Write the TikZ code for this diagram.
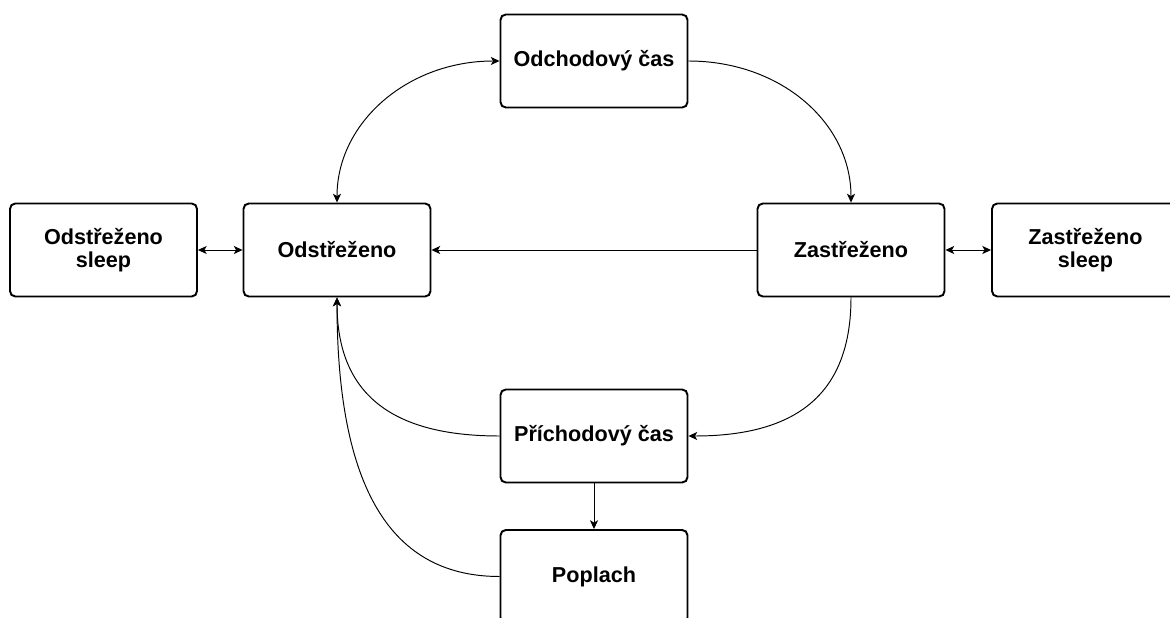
\documentclass[tikz,border=0pt]{standalone}
\usepackage{fontspec}
\setmainfont{Liberation Sans}
\usetikzlibrary{arrows.meta}
\begin{document}
\begin{tikzpicture}[x=0.02cm,y=-0.02cm,
  state/.style={draw, line width=1.1pt, rounded corners=3pt, minimum width=3.74cm, minimum height=1.86cm,
    inner sep=0pt, align=center, font=\fontsize{12.3}{13}\selectfont\bfseries},
  conn/.style={line width=0.55pt, -{Stealth[length=5pt,width=4.6pt,inset=1.3pt]}},
  bconn/.style={line width=0.55pt, {Stealth[length=5pt,width=4.6pt,inset=1.3pt]}-{Stealth[length=5pt,width=4.6pt,inset=1.3pt]}}]
\useasboundingbox (0,0) rectangle (1170,618);
\clip (0,0) rectangle (1170,618);
\node[state] (odch) at (594,61) {Odchodový čas};
\node[state] (osleep) at (103.5,250) {Odstřeženo\\sleep};
\node[state] (odst) at (337,250) {Odstřeženo};
\node[state] (zast) at (851,250) {Zastřeženo};
\node[state] (zsleep) at (1085.5,250) {Zastřeženo\\sleep};
\node[state] (prich) at (594,436) {Příchodový čas};
\node[state] (popl) at (594,576.5) {Poplach};

\draw[bconn] (osleep.east) -- (odst.west);
\draw[bconn] (zast.east) -- (zsleep.west);
\draw[conn] (zast.west) -- (odst.east);
\draw[bconn] (odst.north) .. controls +(0,-80) and +(-92,0) .. (odch.west);
\draw[conn] (odch.east) .. controls +(92,0) and +(0,-80) .. (zast.north);
\draw[conn] (zast.south) .. controls +(0,95) and +(110,0) .. (prich.east);
\draw[conn] (prich.west) .. controls +(-110,0) and +(0,95) .. (odst.south);
\draw[conn] (popl.west) .. controls +(-115,0) and +(0,180) .. (odst.south);
\draw[conn] (prich.south) -- (popl.north);
\end{tikzpicture}
\end{document}
